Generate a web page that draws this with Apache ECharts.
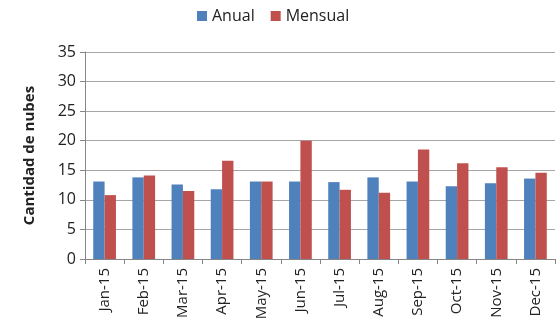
<!DOCTYPE html>
<html>
<head>
<meta charset="utf-8">
<script src="https://cdn.jsdelivr.net/npm/echarts@6/dist/echarts.min.js"></script>
<style>
  html, body { margin: 0; padding: 0; background: #fff; }
  #chart { width: 560px; height: 332px; }
</style>
</head>
<body>
<div id="chart"></div>
<script>
// datos
var meses = ['Jan-15', 'Feb-15', 'Mar-15', 'Apr-15', 'May-15', 'Jun-15',
  'Jul-15', 'Aug-15', 'Sep-15', 'Oct-15', 'Nov-15', 'Dec-15'];
var anual = [13.1, 13.8, 12.6, 11.8, 13.1, 13.1, 13.0, 13.8, 13.1, 12.3, 12.8, 13.6];
var mensual = [10.8, 14.1, 11.5, 16.6, 13.1, 20.0, 11.7, 11.2, 18.5, 16.2, 15.5, 14.6];

var fuente = 'Open Sans';
var myChart = echarts.init(document.getElementById('chart'));

var option = {
  animation: false,
  textStyle: { fontFamily: fuente },
  legend: {
    top: 3,
    left: 192,
    itemWidth: 10,
    itemHeight: 10,
    itemGap: 16,
    icon: 'rect',
    textStyle: { fontSize: 16, color: '#222', fontFamily: fuente },
    data: ['Anual', 'Mensual']
  },
  grid: { left: 85, right: 5, top: 52, bottom: 73 },
  xAxis: {
    type: 'category',
    data: meses,
    axisLine: { lineStyle: { color: '#868686' } },
    axisTick: { show: true, length: 5, lineStyle: { color: '#868686' } },
    axisLabel: { rotate: 90, fontSize: 15, color: '#222', margin: 9 }
  },
  yAxis: {
    type: 'value',
    min: 0,
    max: 35,
    interval: 5,
    name: 'Cantidad de nubes',
    nameLocation: 'middle',
    nameGap: 48,
    nameRotate: 90,
    nameTextStyle: { fontSize: 15, fontWeight: 'bold', color: '#222' },
    axisLine: { show: true, lineStyle: { color: '#868686' } },
    axisTick: { show: true, length: 5, lineStyle: { color: '#868686' } },
    axisLabel: { fontSize: 16, color: '#222', margin: 9 },
    splitLine: { lineStyle: { color: '#a6a6a6' } }
  },
  series: [
    {
      name: 'Anual',
      type: 'bar',
      data: anual,
      barGap: '0%',
      barCategoryGap: '42%',
      itemStyle: { color: '#4F81BD' }
    },
    {
      name: 'Mensual',
      type: 'bar',
      data: mensual,
      itemStyle: { color: '#C0504D' }
    }
  ]
};

myChart.setOption(option, true);
</script>
</body>
</html>
